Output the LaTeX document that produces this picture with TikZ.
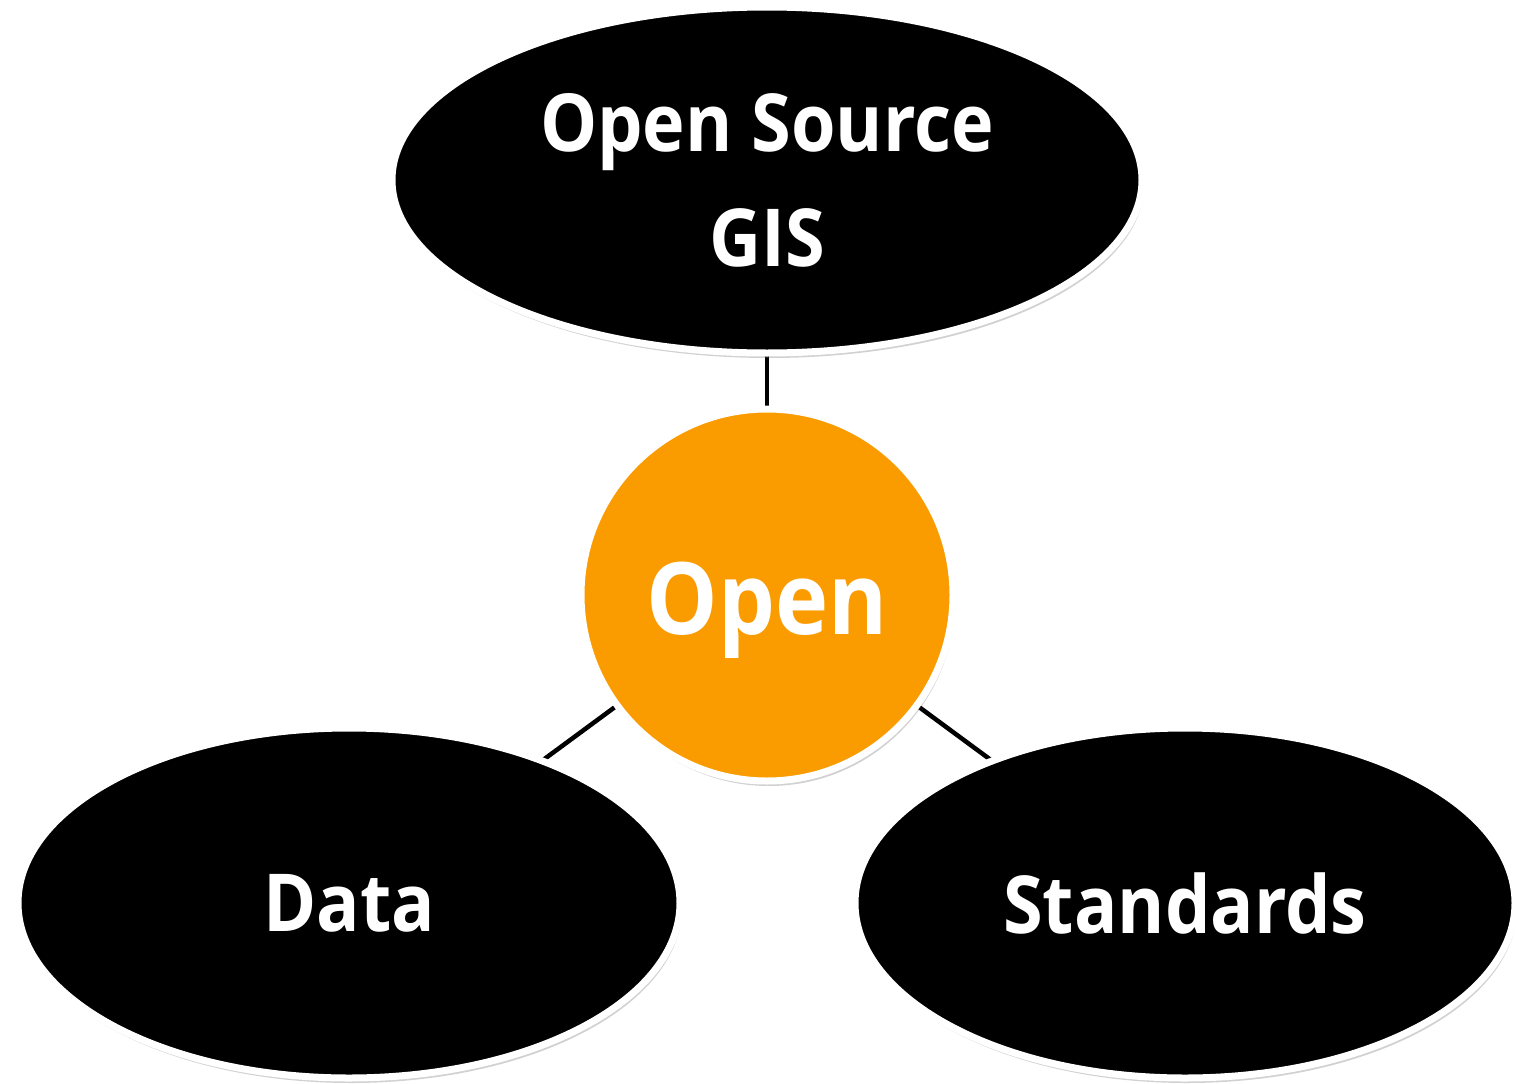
\documentclass[tikz,border=0pt]{standalone}
\usepackage{fontspec}
\setmainfont[FakeStretch=0.9]{Open Sans}
\usetikzlibrary{shapes.geometric,shadows,backgrounds}
\definecolor{openorange}{RGB}{250,155,0}
\tikzset{
  bubble/.style={ellipse, fill=black, draw=white, line width=7pt, inner sep=0pt,
    text=white, font=\fontsize{80}{115}\selectfont\bfseries, align=center,
    drop shadow={shadow xshift=2pt, shadow yshift=-5pt, opacity=0.3, fill=black!60}},
  hub/.style={circle, fill=openorange, draw=white, line width=7pt, inner sep=0pt,
    text=white, font=\fontsize{100}{110}\selectfont\bfseries,
    drop shadow={shadow xshift=2pt, shadow yshift=-5pt, opacity=0.3, fill=black!60}},
  link/.style={line width=4.5pt, black}
}
\begin{document}
\begin{tikzpicture}[x=1pt,y=-1pt]
\useasboundingbox (0,0) rectangle (1516,1084);
\node[bubble, minimum width=750pt, minimum height=346pt] (top) at (767,180) {Open Source\\GIS};
\node[hub, minimum size=372pt, text depth=0pt] (open) at (767,595) {\raisebox{-6pt}{Open}};
\node[bubble, minimum width=662pt, minimum height=350pt] (data) at (349,903) {Data};
\node[bubble, minimum width=660pt, minimum height=350pt] (std) at (1185,903) {Standards};
\begin{scope}[on background layer]
\draw[link] (top.center) -- (open.center);
\draw[link] (open.center) -- (data.center);
\draw[link] (open.center) -- (std.center);
\end{scope}
\end{tikzpicture}
\end{document}
